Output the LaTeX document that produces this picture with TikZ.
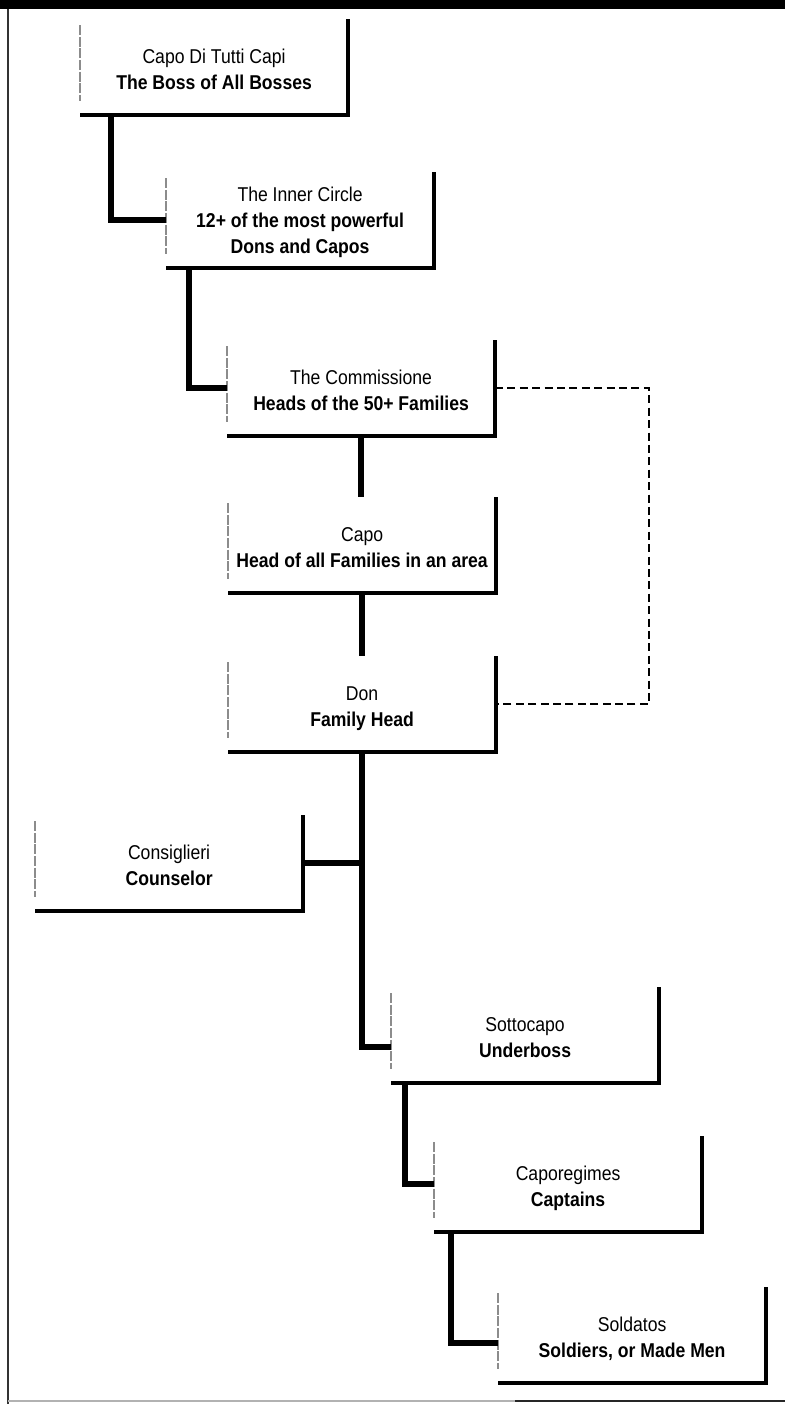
\documentclass[tikz,border=0pt]{standalone}
\usepackage{fontspec}
\setmainfont{Liberation Sans}[FakeStretch=0.88]
\usetikzlibrary{calc}
\newcommand{\lbl}[2]{\raisebox{-2.25pt}[\height][\depth]{\begin{tabular}{@{}c@{}}#1\\\textbf{#2}\end{tabular}}}
\newcommand{\lblthree}[3]{\raisebox{-1.25pt}[\height][\depth]{\begin{tabular}{@{}c@{}}#1\\\textbf{#2}\\\textbf{#3}\end{tabular}}}
\newcommand{\boxedges}[1]{%
  \draw[faint] ($(#1.north west)+(0,6)$) -- ($(#1.south west)+(0,-14)$);
  \draw[edge] (#1.north east) -- (#1.south east) -- (#1.south west);
}
\begin{document}
\begin{tikzpicture}[x=0.5pt,y=-0.5pt,
  box/.style={minimum width=133.5pt, minimum height=47.5pt, inner sep=0pt,
    align=center, font=\fontsize{10}{13}\selectfont, anchor=south east},
  edge/.style={line width=1.6pt, line join=miter},
  faint/.style={black!45, line width=0.8pt, dash pattern=on 5pt off 0.8pt},
  conn/.style={line width=2.8pt, line join=miter},
  link/.style={line width=1.3pt, dash pattern=on 4pt off 2.2pt},
  frame/.style={black!80, line width=0.8pt}
]
\useasboundingbox (0,0) rectangle (785,1404);
% page frame
\fill (0,0) rectangle (785,9);
\draw[frame] (8,9) -- (8,1404);
\draw[gray!60, line width=0.8pt] (8,1401) -- (785,1401);
\draw[black!85, line width=1pt] (515,1401) -- (785,1401);

% boxes
\node[box] (b1) at (348,115) {\lbl{Capo Di Tutti Capi}{The Boss of All Bosses}};
\node[box] (b2) at (434,268) {\lblthree{The Inner Circle}{12+ of the most powerful}{Dons and Capos}};
\node[box] (b3) at (495,436) {\lbl{The Commissione}{Heads of the 50+ Families}};
\node[box] (b4) at (496,593) {\lbl{Capo}{Head of all Families in an area}};
\node[box] (b5) at (496,752) {\lbl{Don}{Family Head}};
\node[box] (b6) at (303,911) {\lbl{Consiglieri}{Counselor}};
\node[box] (b7) at (659,1083) {\lbl{Sottocapo}{Underboss}};
\node[box] (b8) at (702,1232) {\lbl{Caporegimes}{Captains}};
\node[box] (b9) at (766,1383) {\lbl{Soldatos}{Soldiers, or Made Men}};

\foreach \b in {b1,b2,b3,b4,b5,b6,b7,b8,b9}{\boxedges{\b}}

% connectors
\draw[conn] ($(b1.south west)+(31,0)$) |- (b2.west);
\draw[conn] ($(b2.south west)+(23,0)$) |- (b3.west);
\draw[conn] (b3.south) -- (b3.south |- b4.north);
\draw[conn] (b4.south) -- (b4.south |- b5.north);
\draw[conn] (b5.south) |- ($(b7.south west)+(0,-36)$);
\draw[conn] (b6.east) -- (b6.east -| b5.south);
\draw[conn] ($(b7.south west)+(14,0)$) |- (b8.west);
\draw[conn] ($(b8.south west)+(17,0)$) |- ($(b9.south west)+(0,-40)$);
% dashed link
\draw[link] (b3.east) -- ++(154,0) |- (b5.east);
\end{tikzpicture}
\end{document}
